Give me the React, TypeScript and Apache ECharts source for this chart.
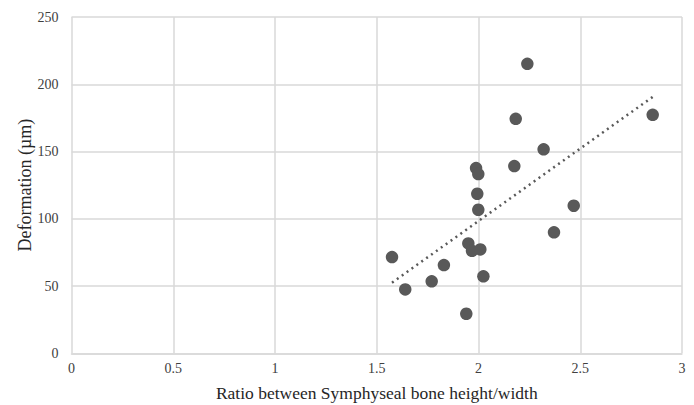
import React, { useEffect, useRef } from "react";
import * as echarts from "echarts";

const ratioValues: number[] = [2.24, 2.856, 2.183, 2.32, 1.988, 1.999, 2.176, 1.994, 1.999, 2.468, 2.371, 1.575, 1.64, 1.77, 1.83, 1.95, 1.968, 2.009, 2.024, 1.94];
const deformationValues: number[] = [215.2, 177.3, 174.3, 151.6, 137.7, 133.2, 139.2, 118.6, 106.7, 109.7, 89.9, 71.5, 47.5, 53.5, 65.6, 81.7, 76.2, 77.2, 57.2, 29.4];
const trendX: number[] = [1.575, 2.856];
const trendY: number[] = [52.5, 190.6];

const FONT = "'Liberation Serif', 'Times New Roman', serif";

export default function App() {
  const ref = useRef<HTMLDivElement>(null);
  useEffect(() => {
    if (!ref.current) return;
    const chart = echarts.init(ref.current, null, { renderer: "svg" });
    const points = ratioValues.map((x, i) => [x, deformationValues[i]]);
    const trend = trendX.map((x, i) => [x, trendY[i]]);
    chart.setOption({
      animation: false,
      backgroundColor: "#ffffff",
      grid: { left: 71.5, right: 12, top: 17, bottom: 51.7, containLabel: false, outerBoundsMode: "none" },
      xAxis: {
        type: "value",
        min: 0,
        max: 3,
        interval: 0.5,
        name: "Ratio between Symphyseal bone height/width",
        nameLocation: "middle",
        nameGap: 31,
        nameMoveOverlap: false,
        nameTextStyle: { fontFamily: FONT, fontSize: 17.5, color: "#262626" },
        axisLine: { show: true, lineStyle: { color: "#d9d9d9", width: 1.5 } },
        axisTick: { show: false },
        axisLabel: { fontFamily: FONT, fontSize: 14, color: "#404040", margin: 8 },
        splitLine: { show: true, lineStyle: { color: "#d9d9d9", width: 1.5 } },
      },
      yAxis: {
        type: "value",
        min: 0,
        max: 250,
        interval: 50,
        name: "Deformation (µm)",
        nameLocation: "middle",
        nameRotate: 90,
        nameGap: 37.5,
        nameMoveOverlap: false,
        nameTextStyle: { fontFamily: FONT, fontSize: 18, color: "#262626" },
        axisLine: { show: false },
        axisTick: { show: false },
        axisLabel: { fontFamily: FONT, fontSize: 14, color: "#404040", margin: 13 },
        splitLine: { show: true, lineStyle: { color: "#d9d9d9", width: 1.5 } },
      },
      series: [
        {
          type: "line",
          data: trend,
          symbol: "none",
          lineStyle: { color: "#595959", width: 2.5, type: [2, 4] },
          z: 1,
        },
        {
          type: "scatter",
          data: points,
          symbol: "circle",
          symbolSize: 12.5,
          itemStyle: { color: "#595959", opacity: 1 },
          z: 2,
        },
      ],
    });
    return () => chart.dispose();
  }, []);
  return (
    <div
      ref={ref}
      style={{ position: "fixed", left: 0, top: 0, width: 694, height: 405, background: "#fff" }}
    />
  );
}
